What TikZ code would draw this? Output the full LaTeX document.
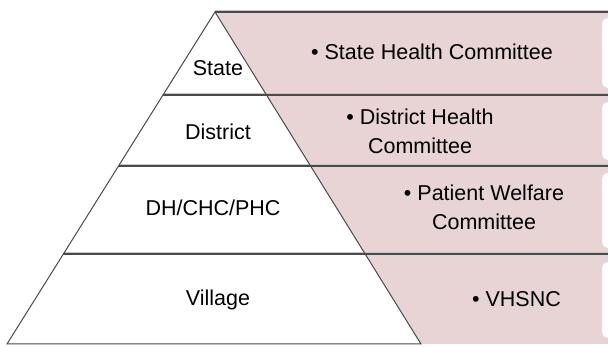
\documentclass[tikz,border=0pt]{standalone}
\usepackage{fontspec}
\setmainfont{Liberation Sans}
\usetikzlibrary{positioning}

\definecolor{bandpink}{HTML}{E8D4D5}
\definecolor{rulegray}{HTML}{4A4A4A}

\tikzset{
    level/.style={font=\fontsize{21.5}{29}\selectfont, inner sep=0pt},
    committee/.style={font=\fontsize{21.5}{29}\selectfont, align=center, inner sep=0pt},
    rule/.style={draw=rulegray, line width=1.3pt},
    shade/.style={draw=gray!45, line width=1pt},
    tab/.style={fill=white, draw=gray!25, rounded corners=5pt}
}

\begin{document}
\begin{tikzpicture}[x=1pt,y=1pt]
    \useasboundingbox (0,0) rectangle (608,347);
    % corners of the pyramid
    \coordinate (apex)  at (215,335);
    \coordinate (bl)    at (7,3);
    \coordinate (br)    at (421,3);
    \coordinate (right) at (608,335);
    \coordinate (rbot)  at (608,3);
    % pink background and the white tabs on the right
    \fill[bandpink] (apex) -- (right) -- (rbot) -- (br) -- cycle;
    \foreach \lo/\hi in {259/329, 187/245, 99/174, 9/85}
        \path[tab] (602,\lo) rectangle (620,\hi);
    % band rules
    \foreach \y in {252,181,93} {
        \path[shade] (0,\y+1.5) -- (608,\y+1.5);
        \path[rule] (0,\y) -- (608,\y);
    }
    \path[shade] (apex) ++(0,1.5) -- (608,336.5);
    \path[rule] (apex) -- (right);
    % white pyramid over the rules' left ends
    \fill[white] (0,0) -- (bl) -- (apex) -- (0,347) -- cycle;
    \draw[rulegray, line width=1pt] (br) -- (apex) -- (bl) -- cycle;
    \foreach \y in {252,181,93}
        \draw[rule] ({215-0.6265*(335-\y)},\y) -- (608,\y);
    % levels
    \node[level] (state)    at (218,279) {State};
    \node[level] (district) at (218,215) {District};
    \node[level] (facility) at (213,139) {DH/CHC/PHC};
    \node[level] (village)  at (218,47)  {Village};
    % committees
    \node[committee] (shc)   at (432,295)   {\textbullet\ State Health Committee};
    \node[committee] (dhc)   at (420,215.5) {\textbullet\ District Health\\Committee};
    \node[committee] (pwc)   at (484,139.5) {\textbullet\ Patient Welfare\\Committee};
    \node[committee] (vhsnc) at (516.5,48)  {\textbullet\ VHSNC};
\end{tikzpicture}
\end{document}
